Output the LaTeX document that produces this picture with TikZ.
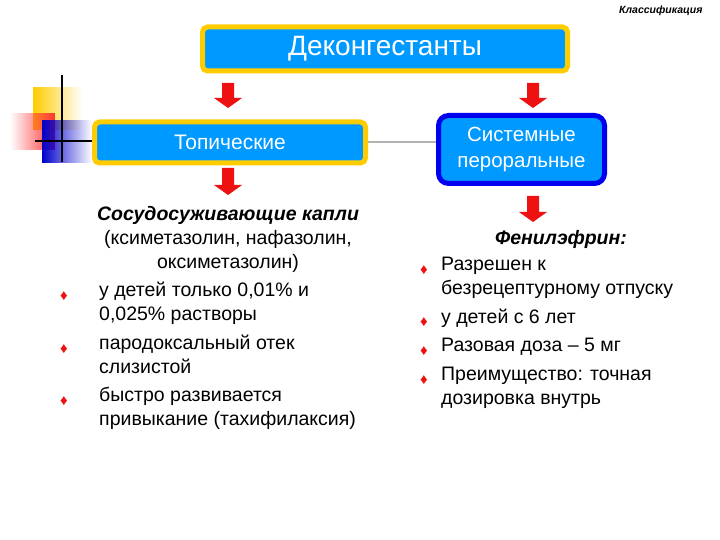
\documentclass[tikz,border=0pt]{standalone}
\usepackage{fontspec}
\setmainfont{Liberation Sans}
\usetikzlibrary{fadings}
\definecolor{boxblue}{HTML}{0099FF}
\definecolor{gold}{HTML}{FFCC00}
\definecolor{dblue}{HTML}{0000EE}
\definecolor{arred}{HTML}{EE1111}
\tikzset{
 ybox/.style={draw=gold,line width=5pt,fill=boxblue,rounded corners=5pt,text=white,font=\fontsize{21}{24}\selectfont,inner sep=0pt},
 bbox/.style={draw=dblue,line width=5pt,fill=boxblue,rounded corners=10pt,text=white,font=\fontsize{20.5}{26}\selectfont,align=center,inner sep=0pt},
 downarr/.style={fill=arred,draw=none},
 body/.style={font=\fontsize{19.5}{24}\selectfont,align=left,anchor=north west,inner sep=0pt},
 bul/.style={text=arred,font=\fontsize{15}{15}\selectfont,inner sep=0pt}
}
\newcommand{\darr}[3]{\fill[downarr] (#1-6,#2) -- (#1+6,#2) -- (#1+6,#3-10) -- (#1+14,#3-10) -- (#1,#3) -- (#1-14,#3-10) -- (#1-6,#3-10) -- cycle;}
\begin{document}
\begin{tikzpicture}[x=1pt,y=-1pt]
\useasboundingbox (0,0) rectangle (720,540);
% decoration
\fill[gold,path fading=east] (33,87) rectangle (82,130);
\fill[red!80,path fading=west] (10,113) rectangle (55,150);
\fill[blue!80!black,path fading=east] (42,120) rectangle (92,163);
\draw[line width=1.2pt] (62,75) -- (62,162);
\draw[line width=1.2pt] (35,141) -- (92,141);
\node[font=\itshape\bfseries\fontsize{10.5}{12}\selectfont,anchor=east] (cls) at (706,11) {Классификация};
\node[ybox,minimum width=365pt,minimum height=44pt] (top) at (385,49) {\fontsize{28}{30}\selectfont Деконгестанты};
\node[ybox,minimum width=271pt,minimum height=41pt] (topic) at (230,142.5) {Топические};
\node[bbox,minimum width=166pt,minimum height=68pt,text width=150pt] (sys) at (521.5,149.5) {Системные\\пероральные};
\draw[gray!60,line width=2pt] (topic.east) -- (sys.west|-topic.east);
\darr{228}{83}{108}
\darr{533}{83}{108}
\darr{228}{168}{195}
\darr{533}{196}{222}
\node[body,anchor=north,align=center] (lt) at (228,206) {\textit{\textbf{Сосудосуживающие капли}}\\(ксиметазолин, нафазолин,\\оксиметазолин)};
\node[body] (l1) at (99,282) {у детей только 0,01\% и\\0,025\%  растворы};
\node[body] (l2) at (99,335) {пародоксальный отек\\слизистой};
\node[body] (l3) at (99,387) {быстро развивается\\привыкание (тахифилаксия)};
\node[bul] (b1) at (64,296) {♦};
\node[bul] (b2) at (64,349) {♦};
\node[bul] (b3) at (64,401) {♦};
\node[body,anchor=north,font=\fontsize{19.5}{24}\selectfont\itshape\bfseries] (rt) at (561,230) {Фенилэфрин:};
\node[body] (r1) at (441,257) {Разрешен к\\безрецептурному отпуску};
\node[body] (r2) at (441,309) {у детей с 6 лет};
\node[body] (r3) at (441,338) {Разовая доза – 5 мг};
\node[body] (r4) at (441,367) {Преимущество: точная\\дозировка внутрь};
\node[bul] (c1) at (424,270) {♦};
\node[bul] (c2) at (424,322) {♦};
\node[bul] (c3) at (424,351) {♦};
\node[bul] (c4) at (424,380) {♦};
\end{tikzpicture}
\end{document}
